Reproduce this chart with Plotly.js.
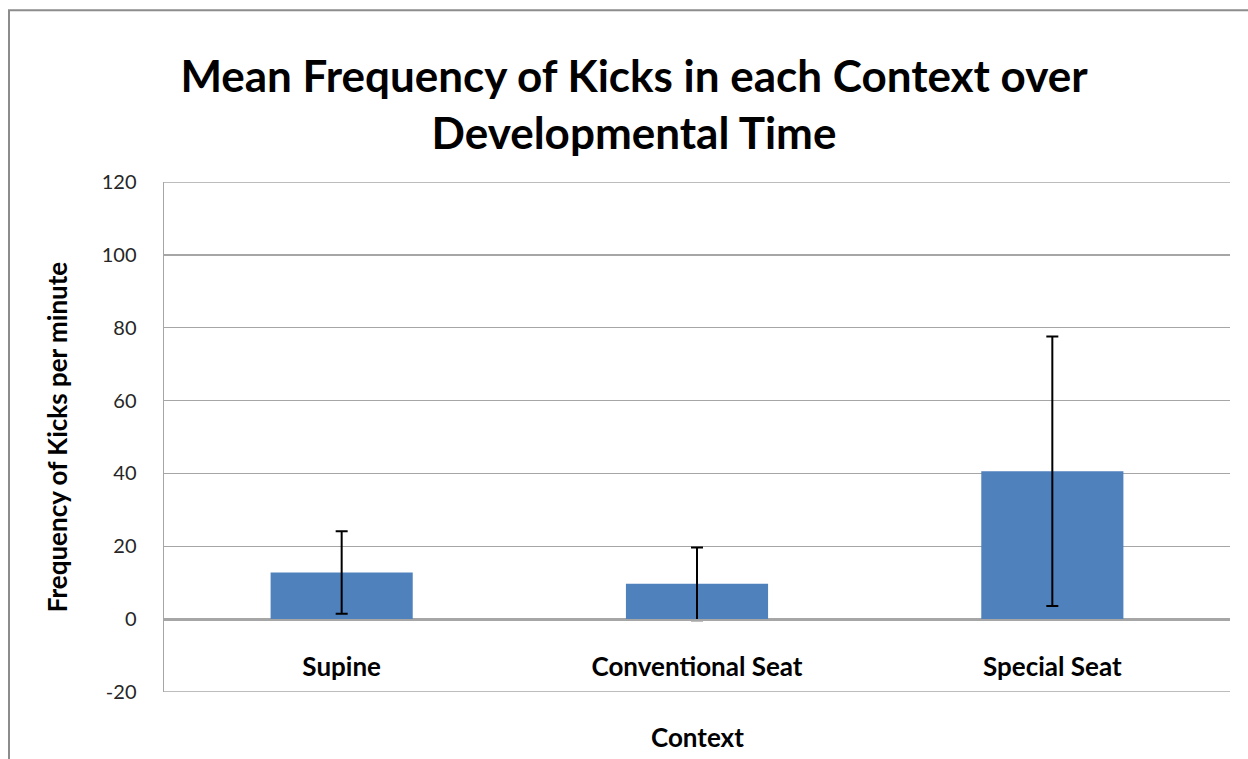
<!DOCTYPE html>
<html>
<head>
<meta charset="utf-8">
<script src="https://cdn.plot.ly/plotly-3.0.1.min.js"></script>
<style>html,body{margin:0;padding:0;background:#fff;}#chart{width:1248px;height:759px;}</style>
</head>
<body>
<div id="chart"></div>
<script>
const categories = ["Supine", "Conventional Seat", "Special Seat"];
const meanKicks = [12.8, 9.7, 40.6];
const errorKicks = [11.3, 10.0, 37.0];
const yTicks = [-20, 0, 20, 40, 60, 80, 100, 120];

const FONT = "Lato, 'Open Sans', 'Liberation Sans', sans-serif";
const GRID = "#a6a6a6";

const trace = {
  type: "bar",
  x: categories,
  y: meanKicks,
  width: 0.4,
  marker: {color: "#4F81BD", line: {width: 0}},
  error_y: {type: "data", array: errorKicks, visible: true, color: "#000000", thickness: 2, width: 6},
  hoverinfo: "x+y"
};

const layout = {
  width: 1248, height: 759,
  margin: {l: 164, r: 18, t: 182, b: 67},
  paper_bgcolor: "#ffffff", plot_bgcolor: "#ffffff",
  font: {family: FONT, color: "#000000", size: 20},
  showlegend: false,
  bargap: 0.6,
  title: {
    text: "<b>Mean Frequency of Kicks in each Context over<br>Developmental Time</b>",
    font: {family: FONT, size: 44, color: "#000000"},
    x: 634/1248, xref: "container", xanchor: "center", y: 1 - 92/759, yref: "container", yanchor: "middle"
  },
  xaxis: {
    type: "category",
    anchor: "free", position: 20/140,
    showline: true, linecolor: GRID, linewidth: 1.5,
    showgrid: false, ticks: "",
    tickfont: {family: FONT, size: 26, color: "#000000"},
    ticklabelstandoff: 24,
    tickvals: categories,
    ticktext: categories.map(c => "<b>" + c + "</b>")
  },
  yaxis: {
    range: [-20, 120],
    tickvals: yTicks,
    ticktext: yTicks.map(String),
    showgrid: true, gridcolor: GRID, gridwidth: 1.5,
    zeroline: false,
    showline: true, linecolor: GRID, linewidth: 1.5,
    ticks: "", ticklabelstandoff: 22,
    tickfont: {family: FONT, size: 20, color: "#262626"},
    title: {text: "<b>Frequency of Kicks per minute</b>", font: {family: FONT, size: 26, color: "#000000"}, standoff: 26}
  },
  annotations: [
    {text: "<b>Context</b>", xref: "paper", yref: "paper", x: 0.5, y: -0.088, xanchor: "center", yanchor: "middle", showarrow: false, font: {family: FONT, size: 26, color: "#000000"}}
  ],
  shapes: [
    {type: "line", xref: "paper", yref: "y", x0: 0, x1: 1, y0: 120, y1: 120, line: {color: GRID, width: 1.5}},
    {type: "line", xref: "paper", yref: "y", x0: 0, x1: 1, y0: -20, y1: -20, line: {color: GRID, width: 1.5}},
    {type: "path", xref: "paper", yref: "paper",
     path: "M -0.1454,-0.2 L -0.1454,1.337 L 1.1,1.337",
     line: {color: "#8c8c8c", width: 2}}
  ]
};

Plotly.newPlot("chart", [trace], layout, {displayModeBar: false, staticPlot: true});
</script>
</body>
</html>
